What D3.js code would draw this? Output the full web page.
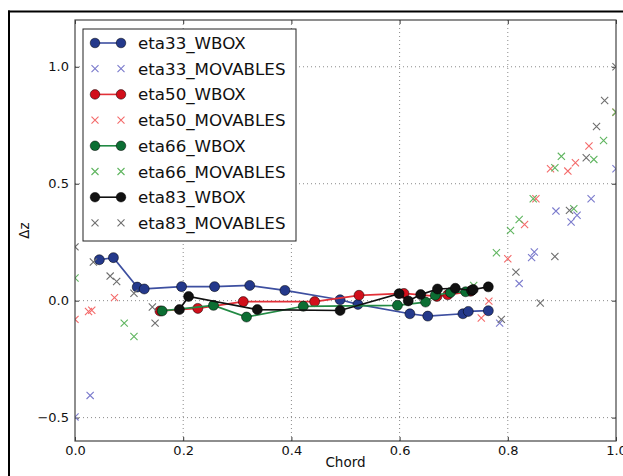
<!DOCTYPE html>
<meta charset="utf-8">
<style type="text/css">
    body { margin: 0; background: #fff; }
    svg { font-family: "DejaVu Sans", sans-serif; }
    .grid line { stroke: #8a8a8a; stroke-width: 1; stroke-dasharray: 1, 3; }
    .axis text { font-size: 13px; fill: #111; }
    .axis line { stroke: #333; }
    .wline { fill: none; stroke-width: 1.7; }
</style>
<body>
</body>
<script type="text/javascript" src="https://d3js.org/d3.v7.min.js"></script>
<script>
    // tick values
    var xTicks = [0.0, 0.2, 0.4, 0.6, 0.8, 1.0];
    var yTicks = [-0.5, 0.0, 0.5, 1.0];

    // eta33
    var eta33Wbox = [[0.045, 0.175], [0.071, 0.184], [0.115, 0.058], [0.128, 0.050], [0.197, 0.060],
        [0.258, 0.060], [0.323, 0.065], [0.388, 0.044], [0.490, 0.004], [0.523, -0.016],
        [0.619, -0.056], [0.652, -0.066], [0.717, -0.056], [0.727, -0.046], [0.764, -0.043]];
    var eta33Movables = [[0.0, -0.497], [0.028, -0.405], [0.785, -0.096], [0.821, 0.073], [0.844, 0.184],
        [0.849, 0.208], [0.889, 0.383], [0.917, 0.336], [0.928, 0.365], [0.954, 0.436], [1.0, 0.564]];

    // eta50
    var eta50Wbox = [[0.157, -0.044], [0.227, -0.033], [0.311, -0.004], [0.443, -0.004], [0.525, 0.023],
        [0.608, 0.031], [0.669, 0.018], [0.689, 0.025], [0.731, 0.040]];
    var eta50Movables = [[0.0, -0.080], [0.025, -0.046], [0.031, -0.041], [0.073, 0.013], [0.751, -0.074],
        [0.765, -0.002], [0.800, 0.179], [0.831, 0.326], [0.852, 0.436], [0.879, 0.564], [0.911, 0.554],
        [0.925, 0.590], [0.950, 0.661], [1.0, 0.806]];

    // eta66
    var eta66Wbox = [[0.161, -0.044], [0.256, -0.020], [0.317, -0.070], [0.422, -0.024], [0.596, -0.020],
        [0.648, -0.006], [0.666, 0.023], [0.694, 0.035], [0.722, 0.038]];
    var eta66Movables = [[0.0, 0.097], [0.091, -0.096], [0.109, -0.153], [0.737, 0.065], [0.779, 0.205],
        [0.805, 0.300], [0.821, 0.347], [0.847, 0.436], [0.887, 0.568], [0.899, 0.617], [0.922, 0.393],
        [0.959, 0.604], [0.977, 0.685], [1.0, 0.806]];

    // eta83
    var eta83Wbox = [[0.193, -0.038], [0.210, 0.018], [0.337, -0.038], [0.490, -0.042], [0.599, 0.030],
        [0.616, -0.001], [0.639, 0.026], [0.670, 0.050], [0.703, 0.053], [0.733, 0.043], [0.736, 0.048],
        [0.764, 0.059]];
    var eta83Movables = [[0.0, 0.230], [0.034, 0.165], [0.065, 0.105], [0.077, 0.082], [0.109, 0.032],
        [0.143, -0.027], [0.148, -0.096], [0.788, -0.080], [0.815, 0.122], [0.860, -0.010], [0.887, 0.189],
        [0.914, 0.386], [0.945, 0.611], [0.964, 0.745], [0.979, 0.856], [1.0, 1.0]];

    var series = [
        { name: "eta33_WBOX", type: "wbox", data: eta33Wbox, line: "#3d4fa0", fill: "#24398b" },
        { name: "eta33_MOVABLES", type: "mov", data: eta33Movables, line: "#7a7acc" },
        { name: "eta50_WBOX", type: "wbox", data: eta50Wbox, line: "#e23038", fill: "#d10f1b" },
        { name: "eta50_MOVABLES", type: "mov", data: eta50Movables, line: "#f46a6a" },
        { name: "eta66_WBOX", type: "wbox", data: eta66Wbox, line: "#228a44", fill: "#0c6e33" },
        { name: "eta66_MOVABLES", type: "mov", data: eta66Movables, line: "#5fb55f" },
        { name: "eta83_WBOX", type: "wbox", data: eta83Wbox, line: "#111111", fill: "#111111" },
        { name: "eta83_MOVABLES", type: "mov", data: eta83Movables, line: "#6e6e6e" }
    ];

    var margin = { top: 20, right: 7, bottom: 35, left: 75 },
        width = 623 - margin.left - margin.right,
        height = 476 - margin.top - margin.bottom;

    var xScale = d3.scaleLinear().domain([0, 1]).range([0, width]);
    var yScale = d3.scaleLinear().domain([-0.6, 1.2]).range([height, 0]);

    var root = d3.select("body").append("svg")
        .attr("width", 623)
        .attr("height", 476);

    // figure frame (cropped)
    root.append("line").attr("x1", 8).attr("x2", 623).attr("y1", 11.5).attr("y2", 11.5)
        .attr("stroke", "#000").attr("stroke-width", 2);
    root.append("line").attr("x1", 9).attr("x2", 9).attr("y1", 10.5).attr("y2", 476)
        .attr("stroke", "#000").attr("stroke-width", 2);

    var svg = root.append("g")
        .attr("transform", "translate(" + margin.left + "," + margin.top + ")");

    svg.append("defs").append("clipPath").attr("id", "plotclip")
        .append("rect").attr("width", width).attr("height", height);

    // grid
    var grid = svg.append("g").attr("class", "grid");
    grid.selectAll(".gx").data(xTicks.slice(1, -1)).enter().append("line")
        .attr("x1", d => xScale(d)).attr("x2", d => xScale(d))
        .attr("y1", 0).attr("y2", height);
    grid.selectAll(".gy").data(yTicks).enter().append("line")
        .attr("x1", 0).attr("x2", width)
        .attr("y1", d => yScale(d)).attr("y2", d => yScale(d));

    // axes
    svg.append("g").attr("class", "axis")
        .attr("transform", "translate(0," + height + ")")
        .call(d3.axisBottom(xScale).tickValues(xTicks).tickFormat(d3.format(".1f"))
            .tickSize(-4).tickPadding(5));
    svg.append("g").attr("class", "axis")
        .call(d3.axisTop(xScale).tickValues(xTicks).tickFormat("").tickSize(-4));
    svg.append("g").attr("class", "axis")
        .call(d3.axisLeft(yScale).tickValues(yTicks).tickFormat(d => d3.format(".1f")(d).replace("-", "\u2212"))
            .tickSize(-4).tickPadding(6));
    svg.append("g").attr("class", "axis")
        .attr("transform", "translate(" + width + ",0)")
        .call(d3.axisRight(yScale).tickValues(yTicks).tickFormat("").tickSize(-4));
    svg.selectAll(".axis .domain").remove();
    svg.selectAll(".axis text").attr("font-family", "DejaVu Sans").attr("font-size", 13);

    // data
    var plot = svg.append("g").attr("clip-path", "url(#plotclip)");
    var line = d3.line().x(d => xScale(d[0])).y(d => yScale(d[1]));

    function cross(g, cx, cy, r, color) {
        g.append("path")
            .attr("d", "M" + (cx - r) + "," + (cy - r) + "L" + (cx + r) + "," + (cy + r) +
                "M" + (cx - r) + "," + (cy + r) + "L" + (cx + r) + "," + (cy - r))
            .attr("stroke", color).attr("stroke-width", 1.1).attr("fill", "none");
    }

    series.forEach(function (s) {
        if (s.type === "wbox") {
            plot.append("path").datum(s.data).attr("class", "wline")
                .attr("stroke", s.line).attr("d", line);
            plot.selectAll(null).data(s.data).enter().append("circle")
                .attr("cx", d => xScale(d[0])).attr("cy", d => yScale(d[1]))
                .attr("r", 5).attr("fill", s.fill)
                .attr("stroke", "#000").attr("stroke-width", 0.5);
        } else {
            s.data.forEach(function (d) {
                cross(plot, xScale(d[0]), yScale(d[1]), 3.6, s.line);
            });
        }
    });

    // plot frame
    svg.append("rect").attr("width", width).attr("height", height)
        .attr("fill", "none").attr("stroke", "#444").attr("stroke-width", 1.2);

    // axis labels
    svg.append("text")
        .attr("x", width / 2).attr("y", height + 26)
        .attr("text-anchor", "middle").attr("font-size", 13.5).attr("fill", "#111")
        .text("Chord");
    svg.append("text")
        .attr("transform", "translate(" + (24 - margin.left) + "," + (height / 2) + ") rotate(-90)")
        .attr("text-anchor", "middle").attr("dy", "0.35em").attr("font-size", 13.5).attr("fill", "#111")
        .text("\u0394z");

    // legend
    var legend = svg.append("g").attr("transform", "translate(" + (83 - margin.left) + "," + (29 - margin.top) + ")");
    legend.append("rect").attr("width", 213).attr("height", 212)
        .attr("fill", "#fff").attr("stroke", "#222").attr("stroke-width", 1);
    series.forEach(function (s, i) {
        var y = 14 + i * 25.7;
        var row = legend.append("g").attr("transform", "translate(0," + y + ")");
        if (s.type === "wbox") {
            row.append("line").attr("x1", 12).attr("x2", 38).attr("y1", 0).attr("y2", 0)
                .attr("stroke", s.line).attr("stroke-width", 1.6);
            [12, 38].forEach(function (cx) {
                row.append("circle").attr("cx", cx).attr("cy", 0).attr("r", 4.8)
                    .attr("fill", s.fill).attr("stroke", "#000").attr("stroke-width", 0.5);
            });
        } else {
            [12, 38].forEach(function (cx) { cross(row, cx, 0, 3.5, s.line); });
        }
        row.append("text").attr("x", 55).attr("dy", "0.36em")
            .attr("font-size", 16.7).attr("fill", "#111")
            .text(s.name);
    });
</script>
